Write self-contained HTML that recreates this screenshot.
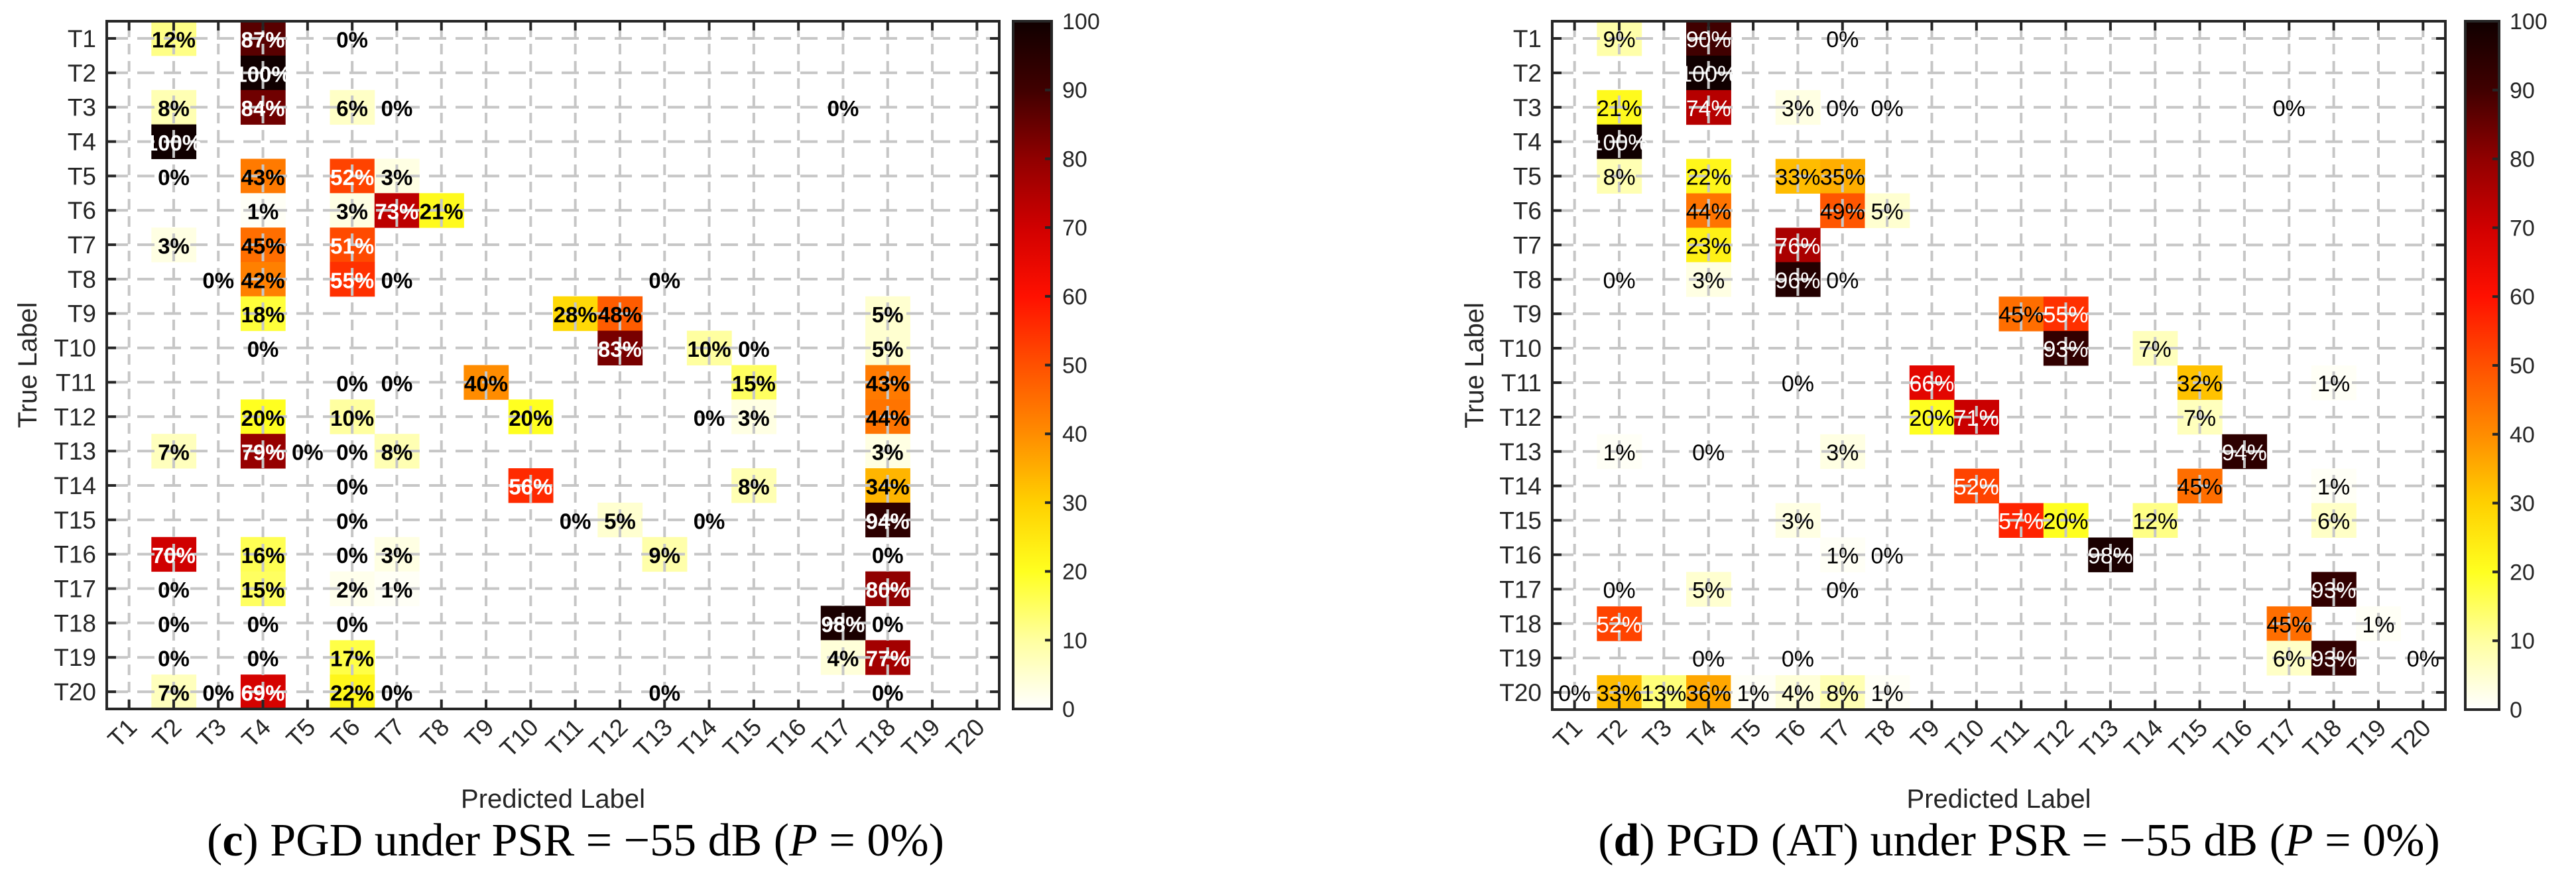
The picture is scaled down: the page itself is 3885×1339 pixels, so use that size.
<!DOCTYPE html>
<html><head><meta charset="utf-8"><style>
html,body{margin:0;padding:0;background:#fff;}
svg{display:block;}
</style></head><body>
<svg id="fig" width="3885" height="1339" viewBox="0 0 3885 1339" xmlns="http://www.w3.org/2000/svg">
<defs>
<linearGradient id="cmap" x1="0" y1="1" x2="0" y2="0">
<stop offset="0" stop-color="#ffffff"/><stop offset="0.1" stop-color="#ffffa0"/><stop offset="0.2" stop-color="#ffff20"/><stop offset="0.3" stop-color="#ffd000"/><stop offset="0.4" stop-color="#ff8c00"/><stop offset="0.5" stop-color="#ff5000"/><stop offset="0.6" stop-color="#ff1000"/><stop offset="0.7" stop-color="#d00000"/><stop offset="0.8" stop-color="#900000"/><stop offset="0.9" stop-color="#400000"/><stop offset="1" stop-color="#100000"/>
</linearGradient>
</defs>
</svg>
<script>
const categories = ["T1","T2","T3","T4","T5","T6","T7","T8","T9","T10","T11","T12","T13","T14","T15","T16","T17","T18","T19","T20"];
const cbTicks = [0,10,20,30,40,50,60,70,80,90,100];
// chart (c): true-label row, predicted column (1-based), percent
const cRows = [1,1,1, 2, 3,3,3,3,3, 4, 5,5,5,5, 6,6,6,6, 7,7,7, 8,8,8,8,8, 9,9,9,9, 10,10,10,10,10, 11,11,11,11,11, 12,12,12,12,12,12, 13,13,13,13,13,13, 14,14,14,14, 15,15,15,15,15, 16,16,16,16,16,16, 17,17,17,17,17, 18,18,18,18,18, 19,19,19,19,19, 20,20,20,20,20,20,20];
const cCols = [2,4,6, 4, 2,4,6,7,17, 2, 2,4,6,7, 4,6,7,8, 2,4,6, 3,4,6,7,13, 4,11,12,18, 4,12,14,15,18, 6,7,9,15,18, 4,6,10,14,15,18, 2,4,5,6,7,18, 6,10,15,18, 6,11,12,14,18, 2,4,6,7,13,18, 2,4,6,7,18, 2,4,6,17,18, 2,4,6,17,18, 2,3,4,6,7,13,18];
const cVals = [12,87,0, 100, 8,84,6,0,0, 100, 0,43,52,3, 1,3,73,21, 3,45,51, 0,42,55,0,0, 18,28,48,5, 0,83,10,0,5, 0,0,40,15,43, 20,10,20,0,3,44, 7,79,0,0,8,3, 0,56,8,34, 0,0,5,0,94, 70,16,0,3,9,0, 0,15,2,1,80, 0,0,0,98,0, 0,0,17,4,77, 7,0,69,22,0,0,0];
// chart (d)
const dRows = [1,1,1, 2, 3,3,3,3,3,3, 4, 5,5,5,5, 6,6,6, 7,7, 8,8,8,8, 9,9, 10,10, 11,11,11,11, 12,12,12, 13,13,13,13, 14,14,14, 15,15,15,15,15, 16,16,16, 17,17,17,17, 18,18,18, 19,19,19,19,19, 20,20,20,20,20,20,20,20];
const dCols = [2,4,7, 4, 2,4,6,7,8,17, 2, 2,4,6,7, 4,7,8, 4,6, 2,4,6,7, 11,12, 12,14, 6,9,15,18, 9,10,15, 2,4,7,16, 10,15,18, 6,11,12,14,18, 7,8,13, 2,4,7,18, 2,17,19, 4,6,17,18,20, 1,2,3,4,5,6,7,8];
const dVals = [9,90,0, 100, 21,74,3,0,0,0, 100, 8,22,33,35, 44,49,5, 23,76, 0,3,96,0, 45,55, 93,7, 0,66,32,1, 20,71,7, 1,0,3,94, 52,45,1, 3,57,20,12,6, 1,0,98, 0,5,0,93, 52,45,1, 0,0,6,93,0, 0,33,13,36,1,4,8,1];

const NS = "http://www.w3.org/2000/svg";
const svg = document.getElementById('fig');
const stops = [[0,[255,255,255]],[10,[255,255,160]],[20,[255,255,32]],[30,[255,208,0]],[40,[255,140,0]],[50,[255,80,0]],[60,[255,16,0]],[70,[208,0,0]],[80,[144,0,0]],[90,[64,0,0]],[100,[16,0,0]]];
function colorOf(v){
  for(let i=0;i<stops.length-1;i++){
    const a=stops[i],b=stops[i+1];
    if(v<=b[0]){const t=(v-a[0])/(b[0]-a[0]);
      const c=a[1].map((x,k)=>Math.round(x+(b[1][k]-x)*t));
      return `rgb(${c[0]},${c[1]},${c[2]})`;}
  }
  return 'rgb(16,0,0)';
}
function mk(tag, attrs, parent){
  const e=document.createElementNS(NS,tag);
  for(const k in attrs) e.setAttribute(k,attrs[k]);
  (parent||svg).appendChild(e); return e;
}
function drawChart(cfg, rows, cols, vals){
  const g=mk('g',{});
  
  
  const n=categories.length;
  const pw=(cfg.x1-cfg.x0)/n, ph=(cfg.y1-cfg.y0)/n;
  const xs=c=>cfg.x0+(c-0.5)*pw, ys=r=>cfg.y0+(r-0.5)*ph;
  // cells
  for(let i=0;i<vals.length;i++){
    if(vals[i]<=0) continue;
    const r=mk('rect',{x:cfg.x0+(cols[i]-1)*pw,y:cfg.y0+(rows[i]-1)*ph,width:pw+0.5,height:ph+0.5,fill:colorOf(vals[i])},g);
    
    
  }
  // grid
  for(let k=1;k<=n;k++){
    mk('line',{x1:xs(k),x2:xs(k),y1:cfg.y0,y2:cfg.y1,stroke:'#c6c6c6','stroke-width':4,'stroke-dasharray':'16 10','stroke-dashoffset':'-8'},g);
    mk('line',{y1:ys(k),y2:ys(k),x1:cfg.x0,x2:cfg.x1,stroke:'#c6c6c6','stroke-width':4,'stroke-dasharray':'26 14','stroke-dashoffset':'-6'},g);
  }
  // cell text
  for(let i=0;i<vals.length;i++){
    const t=mk('text',{x:xs(cols[i]),y:ys(rows[i])+2,'text-anchor':'middle','dominant-baseline':'central','font-family':'Liberation Sans, sans-serif','font-size':cfg.cellFont,'font-weight':cfg.bold?'bold':'normal',fill:vals[i]>=50?'#ffffff':'#000000'},g);
    t.textContent=vals[i]+'%';
    
    
  }
  // axes box & ticks
  mk('rect',{x:cfg.x0,y:cfg.y0,width:cfg.x1-cfg.x0,height:cfg.y1-cfg.y0,fill:'none',stroke:'#262626','stroke-width':4},g);
  for(let k=1;k<=n;k++){
    mk('line',{x1:xs(k),x2:xs(k),y1:cfg.y0,y2:cfg.y0+14,stroke:'#262626','stroke-width':4},g);
    mk('line',{x1:xs(k),x2:xs(k),y1:cfg.y1,y2:cfg.y1-14,stroke:'#262626','stroke-width':4},g);
    mk('line',{x1:cfg.x0,x2:cfg.x0+14,y1:ys(k),y2:ys(k),stroke:'#262626','stroke-width':4},g);
    mk('line',{x1:cfg.x1,x2:cfg.x1-14,y1:ys(k),y2:ys(k),stroke:'#262626','stroke-width':4},g);
    const yl=mk('text',{x:cfg.x0-16,y:ys(k)+13,'text-anchor':'end','font-family':'Liberation Sans, sans-serif','font-size':37,fill:'#262626'},g);
    yl.textContent=categories[k-1];
    
    
    const xl=mk('text',{x:0,y:0,'text-anchor':'end','font-family':'Liberation Sans, sans-serif','font-size':37,fill:'#262626',transform:`translate(${xs(k)+14},${cfg.y1+30}) rotate(-45)`},g);
    xl.textContent=categories[k-1];
    
    
  }
  // axis titles
  const yt=mk('text',{x:0,y:0,'text-anchor':'middle','font-family':'Liberation Sans, sans-serif','font-size':40,fill:'#262626',transform:`translate(${cfg.yTitleX},${(cfg.y0+cfg.y1)/2}) rotate(-90)`},g);
  yt.textContent='True Label';
  
  
  const xt=mk('text',{x:(cfg.x0+cfg.x1)/2,y:1218,'text-anchor':'middle','font-family':'Liberation Sans, sans-serif','font-size':40,fill:'#262626'},g);
  xt.textContent='Predicted Label';
  
  
  // colorbar
  const cb=mk('rect',{x:cfg.cb0,y:cfg.y0,width:cfg.cb1-cfg.cb0,height:cfg.y1-cfg.y0,fill:'url(#cmap)',stroke:'#262626','stroke-width':4},g);
  
  
  const cy=v=>cfg.y1-(v/100)*(cfg.y1-cfg.y0);
  cbTicks.forEach(v=>{
    mk('line',{x1:cfg.cb1,x2:cfg.cb1-10,y1:cy(v),y2:cy(v),stroke:'#262626','stroke-width':4},g);
    const tl=mk('text',{x:cfg.cb1+16,y:cy(v)+12,'font-family':'Liberation Sans, sans-serif','font-size':34,fill:'#262626'},g);
    tl.textContent=String(v);
    
    
  });
  // caption
  const cap=mk('text',{x:cfg.capX,y:1290,'text-anchor':'middle','font-family':'Liberation Serif, serif','font-size':70,fill:'#000'},g);
  cap.innerHTML=cfg.caption;
  
  
}
drawChart({name:'confusion-matrix-c',x0:161,x1:1507,y0:32,y1:1069,cb0:1528,cb1:1586,yTitleX:55,capX:868,cellFont:33,bold:true,
  caption:'(<tspan font-weight="bold">c</tspan>) PGD under PSR = −55 dB (<tspan font-style="italic">P</tspan> = 0%)'}, cRows,cCols,cVals);
drawChart({name:'confusion-matrix-d',x0:2341,x1:3688,y0:32,y1:1070,cb0:3718,cb1:3769,yTitleX:2237,capX:3045,cellFont:34,bold:false,
  caption:'(<tspan font-weight="bold">d</tspan>) PGD (AT) under PSR = −55 dB (<tspan font-style="italic">P</tspan> = 0%)'}, dRows,dCols,dVals);
</script>
</body></html>
